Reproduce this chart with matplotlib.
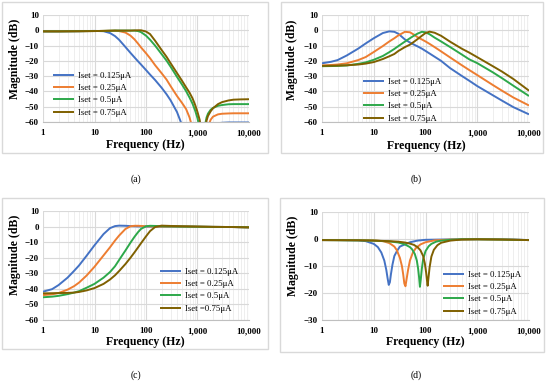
import matplotlib
matplotlib.use("Agg")
import matplotlib.pyplot as plt
from matplotlib.patches import Rectangle
from matplotlib.ticker import LogLocator, NullFormatter

plt.rcParams['font.family'] = ['Liberation Serif', 'DejaVu Serif']

# ---------------- data ----------------
series_labels = ["Iset = 0.125\u03bcA", "Iset = 0.25\u03bcA", "Iset = 0.5\u03bcA", "Iset = 0.75\u03bcA"]
series_labels_c = ["Iset = 0.125\u03bcA", "Iset = 0.25\u03bcA", "Iset = 0.5\u03bcA", "Iset =0.75\u03bcA"]
colors = ["#4472C4", "#ED7D31", "#2DA84A", "#7F6000"]
x_ticks = [1, 10, 100, 1000, 10000]
x_tick_labels = ["1", "10", "100", "1,000", "10,000"]

# (a) low-pass with notch
a_f = [1, 2, 5, 10, 15, 20, 25, 30, 40, 50, 60, 70, 80, 100, 120, 150, 200, 250, 300, 400,
       500, 600, 700, 800, 900, 1000, 1100, 1200, 1300, 1400, 1500, 1600, 1800, 2000, 2500,
       3000, 4000, 5000, 7000, 10000]
a_blue = [-0.7, -0.7, -0.6, -0.4, -0.6, -1.8, -3.8, -6.2, -11.0, -14.8, -17.8, -20.3, -22.4, -26.0,
          -29.0, -32.5, -37.5, -41.8, -45.8, -53.5, -62, -68, -73, -77, -80, -83, -86, -89, -92,
          -90, -75, -68, -63, -61.5, -60.8, -60.5, -60.3, -60.3, -60.3, -60.3]
a_orange = [-0.7, -0.7, -0.6, -0.5, -0.4, -0.3, -0.3, -0.5, -1.5, -3.5, -6.0, -8.7, -11.2, -15.0,
            -18.3, -22.8, -28.0, -32.2, -36.5, -43.0, -47.5, -51.5, -57.0, -64, -70, -76, -80,
            -85, -90, -85, -70, -63, -58.5, -56.5, -55.0, -54.6, -54.4, -54.3, -54.3, -54.3]
a_green = [-0.7, -0.7, -0.6, -0.5, -0.4, -0.3, -0.2, -0.2, -0.2, -0.2, -0.2, -0.5, -1.2, -3.5,
           -6.2, -10.0, -15.5, -19.8, -23.8, -30.5, -35.5, -39.8, -44.0, -48.0, -52.5, -57.5,
           -64, -75, -70, -62, -57, -54.5, -52.0, -50.8, -49.4, -48.9, -48.4, -48.3, -48.3, -48.3]
a_brown = [-0.7, -0.7, -0.6, -0.5, -0.4, -0.3, -0.2, -0.2, -0.2, -0.2, -0.1, 0.0, 0.0, -0.8,
           -2.5, -6.8, -12.8, -17.3, -21.5, -28.0, -33.0, -37.3, -40.8, -44.5, -48.8, -53.5,
           -58.5, -66, -78, -68, -59, -56, -53, -51, -48.3, -47.0, -45.9, -45.4, -45.2, -45.1]

# (b) band-pass
b_f = [1, 1.5, 2, 3, 5, 7, 10, 15, 20, 25, 30, 40, 50, 60, 70, 85, 100, 120, 150, 200, 300,
       500, 700, 1000, 2000, 3000, 5000, 10000]
b_blue = [-21.6, -20.6, -19.5, -16.5, -12.0, -8.6, -5.2, -1.8, -0.7, -1.0, -2.3, -6.0, -8.0,
          -9.4, -10.5, -12.0, -13.5, -15.2, -17.3, -20.0, -24.8, -29.8, -33.0, -36.5, -42.5,
          -46.0, -50.3, -55.0]
b_orange = [-23.0, -22.7, -22.4, -21.6, -19.5, -17.5, -14.2, -10.3, -7.3, -5.2, -3.3, -1.0,
            -1.3, -2.9, -4.5, -6.0, -7.3, -8.9, -11.0, -13.8, -17.8, -22.8, -26.0, -29.3,
            -35.8, -39.5, -44.0, -49.2]
b_green = [-23.5, -23.4, -23.3, -23.0, -22.0, -21.0, -19.3, -16.8, -14.3, -12.2, -10.3, -7.4,
           -5.2, -3.5, -2.2, -1.0, -1.3, -2.6, -4.8, -7.3, -11.0, -15.8, -19.0, -21.5, -27.5,
           -31.3, -36.3, -43.0]
b_brown = [-23.3, -23.2, -23.1, -22.9, -22.4, -21.8, -20.8, -18.8, -17.0, -15.5, -13.5, -11.0,
           -9.4, -7.5, -5.8, -3.6, -1.8, -0.9, -1.6, -3.6, -7.5, -12.0, -14.6, -17.6, -23.5,
           -27.0, -31.9, -39.5]

# (c) high-pass
c_f = [1, 1.5, 2, 3, 4, 5, 7, 10, 15, 20, 25, 30, 40, 50, 60, 70, 80, 100, 120, 150, 200, 300,
       500, 1000, 2000, 5000, 10000]
c_blue = [-41.8, -40.2, -37.6, -32.8, -28.5, -25.0, -18.8, -12.0, -4.8, -1.0, 0.3, 0.6, 0.5,
          0.3, 0.2, 0.1, 0.1, 0.0, 0.0, 0.0, 0.0, 0.0, 0.0, -0.1, -0.2, -0.3, -0.5]
c_orange = [-44.0, -43.5, -42.7, -40.5, -38.3, -36.0, -31.5, -25.8, -18.5, -13.3, -9.0, -5.8,
            -1.5, 0.2, 0.5, 0.5, 0.4, 0.2, 0.1, 0.1, 0.0, 0.0, 0.0, -0.1, -0.2, -0.3, -0.5]
c_green = [-45.4, -45.0, -44.5, -43.4, -42.4, -41.5, -39.3, -36.8, -32.8, -29.2, -25.5, -21.5,
           -15.3, -10.3, -6.5, -3.6, -1.5, 0.2, 0.5, 0.4, 0.2, 0.1, 0.0, -0.1, -0.2, -0.3, -0.5]
c_brown = [-42.9, -42.8, -42.7, -42.6, -42.4, -42.0, -41.0, -39.5, -36.8, -34.0, -31.3, -28.6,
           -24.0, -20.0, -16.5, -13.4, -10.7, -6.3, -2.9, -0.3, 0.6, 0.4, 0.2, 0.0, -0.2, -0.3, -0.5]

# (d) notch
d_blue_f = [1, 2, 3, 5, 7, 10, 12, 14, 16, 17.5, 18.5, 19.5, 20.5, 21.5, 23, 25, 28, 32, 40, 50,
            70, 100, 200, 500, 1000, 2000, 5000, 10000]
d_blue = [-0.4, -0.4, -0.45, -0.5, -0.8, -1.8, -3.0, -5.0, -8.0, -11.5, -14.5, -17.0, -16.0,
          -13.0, -9.5, -6.3, -4.5, -2.8, -2.0, -1.2, -0.6, -0.3, -0.2, -0.1, -0.1, -0.1, -0.2, -0.4]
d_orange_f = [1, 5, 10, 15, 20, 25, 28, 32, 35, 37, 39, 41, 43, 46, 50, 57, 65, 80, 100, 150,
              300, 1000, 3000, 10000]
d_orange = [-0.4, -0.4, -0.5, -0.8, -1.5, -2.8, -4.2, -7.0, -10.0, -13.0, -16.5, -17.5, -15.0,
            -11.5, -8.0, -5.0, -3.4, -2.0, -1.2, -0.5, -0.2, -0.1, -0.2, -0.4]
d_green_f = [1, 5, 10, 20, 30, 40, 50, 55, 62, 68, 72, 75, 78, 81, 85, 90, 100, 115, 130, 160,
             200, 300, 500, 1000, 3000, 10000]
d_green = [-0.4, -0.5, -0.6, -0.9, -1.3, -2.0, -3.0, -3.8, -5.5, -8.0, -11.0, -14.0, -17.7,
           -15.0, -11.0, -7.5, -4.5, -2.7, -1.8, -1.0, -0.6, -0.3, -0.1, -0.1, -0.2, -0.4]
d_brown_f = [1, 5, 10, 20, 30, 40, 50, 60, 70, 80, 90, 97, 103, 107, 110, 114, 120, 130, 145,
             170, 200, 300, 500, 1000, 3000, 10000]
d_brown = [-0.4, -0.5, -0.6, -0.8, -1.0, -1.3, -1.7, -2.2, -3.0, -4.2, -6.3, -9.0, -12.5,
           -15.5, -17.3, -14.5, -10.5, -6.5, -4.0, -2.3, -1.4, -0.6, -0.2, -0.1, -0.2, -0.4]

# ---------------- layout ----------------
W, H = 550, 382
fig = plt.figure(figsize=(W / 100, H / 100), dpi=100)
fig.patch.set_facecolor("white")


def fx(px):
    return px / W


def fy(py):
    return 1 - py / H


def box(x0, y0, x1, y1):
    fig.patches.append(Rectangle((fx(x0), fy(y1)), fx(x1) - fx(x0), fy(y0) - fy(y1),
                                 transform=fig.transFigure, fill=False,
                                 edgecolor="#D9D9D9", lw=1.0))


def make_axes(x0, x1, y0, y1, ymin, ymax):
    ax = fig.add_axes([fx(x0), fy(y1), fx(x1) - fx(x0), fy(y0) - fy(y1)])
    ax.set_xscale("log")
    ax.set_xlim(1, 10000)
    ax.set_ylim(ymin, ymax)
    ax.set_yticks(list(range(ymin, ymax + 1, 10)))
    ax.set_xticks(x_ticks)
    ax.set_xticklabels(x_tick_labels)
    ax.xaxis.set_minor_locator(LogLocator(base=10, subs=range(2, 10), numticks=20))
    ax.xaxis.set_minor_formatter(NullFormatter())
    ax.grid(which="major", color="#D9D9D9", lw=0.8)
    ax.grid(which="minor", axis="x", color="#EBEBEB", lw=0.6)
    ax.set_axisbelow(True)
    for s in ["top", "right", "left"]:
        ax.spines[s].set_visible(False)
    ax.spines["bottom"].set_color("#BFBFBF")
    ax.spines["bottom"].set_linewidth(0.8)
    ax.tick_params(which="both", length=0)
    ax.tick_params(axis="x", pad=5, labelsize=6.5)
    ax.tick_params(axis="y", pad=3, labelsize=6.5)
    for lab in ax.get_xticklabels() + ax.get_yticklabels():
        lab.set_fontweight("bold")
    ax.set_facecolor("white")
    return ax


def legend(ax, handles, labels, x0, ytop):
    fig.legend(handles, labels, loc="upper left",
               bbox_to_anchor=(fx(x0), fy(ytop)), bbox_transform=fig.transFigure,
               frameon=False, fontsize=6.3, borderpad=0, borderaxespad=0,
               handlelength=2.4, handletextpad=0.5, labelspacing=0.46)


def plot_series(ax, xs_list, ys_list):
    hs = []
    for xs, ys, c in zip(xs_list, ys_list, colors):
        h, = ax.plot(xs, ys, color=c, lw=1.4, solid_capstyle="butt")
        hs.append(h)
    return hs


# chart-area boxes
box(2, 2, 268, 153)
box(281, 2, 543, 153)
box(2, 198, 268, 349)
box(280, 198, 544, 352)

# (a)
ax_a = make_axes(43, 249, 15, 122, -60, 10)
hs = plot_series(ax_a, [a_f] * 4, [a_blue, a_orange, a_green, a_brown])
legend(ax_a, hs, series_labels, 53, 72)

# (b)
ax_b = make_axes(322, 529, 15, 122, -60, 10)
hs = plot_series(ax_b, [b_f] * 4, [b_blue, b_orange, b_green, b_brown])
legend(ax_b, hs, series_labels, 363, 78)

# (c)
ax_c = make_axes(43, 249, 211, 320, -60, 10)
hs = plot_series(ax_c, [c_f] * 4, [c_blue, c_orange, c_green, c_brown])
legend(ax_c, hs, series_labels_c, 160, 268)

# (d)
ax_d = make_axes(322, 529, 212, 320, -30, 10)
hs = plot_series(ax_d, [d_blue_f, d_orange_f, d_green_f, d_brown_f],
                 [d_blue, d_orange, d_green, d_brown])
legend(ax_d, hs, series_labels, 443, 271)

# axis titles
lab_kw = dict(fontsize=8.5, fontweight="bold", ha="center", va="center")
for (xc, yc) in [(145, 145), (426, 146), (145, 342), (425, 342)]:
    fig.text(fx(xc), fy(yc), "Frequency (Hz)", **lab_kw)
for (xc, yc) in [(15, 59), (292, 60), (15, 255), (293, 256)]:
    fig.text(fx(xc), fy(yc), "Magnitude (dB)", rotation=90, **lab_kw)

# panel letters
for (xc, yc, t) in [(136, 179, "(a)"), (416, 179, "(b)"), (136, 375, "(c)"), (416, 375, "(d)")]:
    fig.text(fx(xc), fy(yc), t, fontsize=7, ha="center", va="center")

fig.savefig("out.png", dpi=100, facecolor="white")
